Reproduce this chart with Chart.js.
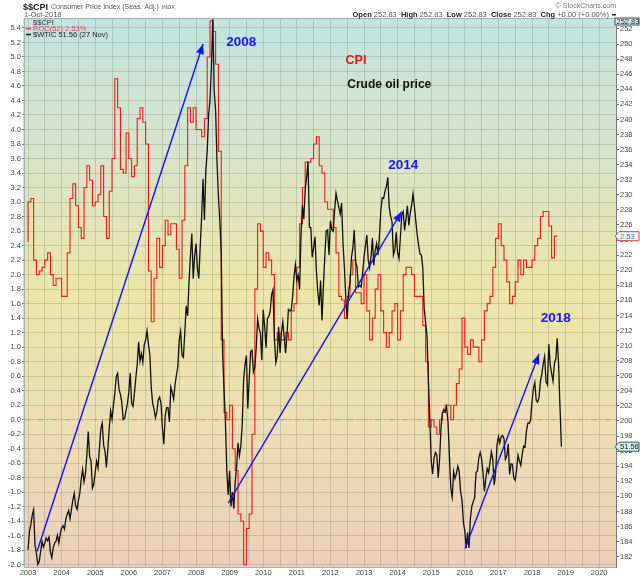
<!DOCTYPE html>
<html>
<head>
<meta charset="utf-8">
<script src="https://cdn.jsdelivr.net/npm/chart.js@4.4.1/dist/chart.umd.min.js"></script>
<style>
  html, body { margin:0; padding:0; background:#fff; }
  #wrap { width:640px; height:576px; }
</style>
</head>
<body>
<div id="wrap"><canvas id="chart" width="640" height="576"></canvas></div>
<script>
// $$CPI ROC(52) vs $WTIC overlay - stockcharts style

const firstYear = 2003;
const yearLabels = [2003,2004,2005,2006,2007,2008,2009,2010,2011,2012,2013,2014,2015,2016,2017,2018,2019,2020];
const leftTicks = [-2.0,-1.8,-1.6,-1.4,-1.2,-1.0,-0.8,-0.6,-0.4,-0.2,0.0,0.2,0.4,0.6,0.8,1.0,1.2,1.4,1.6,1.8,
  2.0,2.2,2.4,2.6,2.8,3.0,3.2,3.4,3.6,3.8,4.0,4.2,4.4,4.6,4.8,5.0,5.2,5.4];
const rightTicks = [182,184,186,188,190,192,194,196,198,200,202,204,206,208,210,212,214,216,218,
  220,222,224,226,228,230,232,234,236,238,240,242,244,246,248,250,252];

// CPI ROC(52) in %, one row per year, monthly
const cpiRoc = [
  [2.45,3.0,3.05,2.2,2.0,2.05,2.1,2.2,2.3,2.0,1.85,1.95],        // 2003
  [1.95,1.7,1.7,2.3,3.05,3.25,2.95,2.65,2.5,3.2,3.5,3.3],        // 2004
  [2.95,3.0,3.1,3.5,2.8,2.5,3.15,3.6,4.7,4.3,3.45,3.4],          // 2005
  [3.95,3.6,3.35,3.5,4.15,4.3,4.1,3.8,2.05,1.35,1.95,2.5],       // 2006
  [2.1,2.4,2.75,2.55,2.7,2.7,2.35,1.95,2.75,3.5,4.3,4.1],        // 2007
  [4.3,4.0,4.0,3.9,4.15,5.0,5.5,5.35,4.9,3.7,1.1,0.1],           // 2008
  [0.0,0.2,-0.4,-0.7,-1.3,-1.4,-2.0,-1.5,-1.3,-0.2,1.8,2.7],     // 2009
  [2.6,2.1,2.3,2.2,2.0,1.1,1.2,1.1,1.1,1.2,1.1,1.5],             // 2010
  [1.6,2.1,2.7,3.2,3.55,3.55,3.6,3.8,3.9,3.5,3.4,3.0],           // 2011
  [2.9,2.9,2.65,2.3,1.7,1.65,1.4,1.7,2.0,2.2,1.75,1.75],         // 2012
  [1.6,2.0,1.5,1.1,1.4,1.8,2.0,1.5,1.2,1.0,1.2,1.5],             // 2013
  [1.6,1.1,1.5,2.0,2.1,2.1,2.0,1.7,1.7,1.7,1.3,0.8],             // 2014
  [-0.1,0.0,-0.1,-0.2,0.0,0.1,0.2,0.2,0.0,0.2,0.5,0.7],          // 2015
  [1.4,1.0,0.9,1.1,1.0,1.0,0.8,1.1,1.5,1.6,1.7,2.1],             // 2016
  [2.5,2.7,2.4,2.2,1.9,1.6,1.7,1.9,2.2,2.0,2.2,2.1],             // 2017
  [2.1,2.2,2.4,2.5,2.8,2.87,2.87,2.67,2.23,2.53]                 // 2018
];

// $WTIC close, one row per year, twice a month (1st / 15th)
const wtic = [
  [29.0,33.0,34.5,36.6,37.8,30.0,28.2,25.8,26.5,28.6,30.8,29.6,30.5,31.6,31.0,31.8,28.5,27.3,29.5,30.5,30.9,32.2,30.5,32.5], // 2003
  [33.8,34.3,33.5,35.7,36.8,37.6,35.8,37.8,39.9,41.4,38.6,37.9,39.9,41.4,44.4,46.6,43.9,45.6,49.6,54.9,49.4,48.4,42.5,43.4], // 2004
  [46.0,48.4,46.9,51.2,55.4,56.7,51.9,50.5,47.0,51.0,55.6,59.4,57.5,60.6,63.3,66.9,67.6,64.1,63.0,61.2,57.5,57.8,59.4,61.0], // 2005
  [63.5,67.7,61.1,60.4,63.3,66.6,69.6,74.5,70.3,71.9,70.0,73.9,74.9,76.9,74.0,71.8,64.6,61.1,59.8,57.9,59.1,61.8,62.4,61.0], // 2006
  [55.6,52.1,58.4,60.1,60.1,57.0,64.6,63.4,62.0,65.1,67.2,69.1,74.9,76.8,71.5,71.1,76.7,82.4,80.2,87.6,93.3,98.2,88.3,93.3], // 2007
  [96.0,90.6,88.4,95.5,101.8,110.2,101.2,112.0,116.3,124.2,127.4,134.9,145.1,129.3,125.1,113.8,106.2,101.2,93.9,71.9,64.2,57.0,46.3,41.0], // 2008
  [46.3,38.5,41.7,38.0,44.0,47.1,52.4,49.6,51.7,56.3,66.3,69.6,71.5,59.9,66.4,72.4,72.7,67.9,68.9,73.2,79.5,77.5,76.4,70.5], // 2009
  [81.5,78.0,73.2,79.7,80.0,81.2,84.9,85.9,75.1,70.0,71.5,77.8,72.1,76.5,78.9,75.4,72.0,76.1,81.6,81.3,81.5,84.3,88.8,91.4], // 2010
  [88.0,89.1,86.0,97.9,104.4,101.4,107.9,110.5,113.9,99.6,99.5,93.0,95.1,97.5,90.0,85.3,82.5,87.9,79.2,86.8,93.3,98.8,99.0,93.5], // 2011
  [101.0,99.0,98.7,103.2,107.0,105.4,104.0,102.5,104.9,96.1,90.7,84.0,79.5,85.5,87.5,92.9,95.0,99.0,92.0,90.9,86.5,86.9,86.5,89.5], // 2012
  [93.0,95.5,97.9,92.5,90.7,93.0,97.2,91.3,94.5,96.0,93.5,97.5,103.2,106.0,105.9,107.5,108.5,110.5,104.0,102.0,100.8,93.5,94.6,98.5], // 2013
  [94.0,92.7,97.5,102.2,103.0,98.9,101.5,104.3,100.0,102.6,104.4,106.9,104.1,101.0,97.9,95.6,93.7,93.5,90.7,81.8,78.8,75.8,66.0,57.5], // 2014
  [48.4,45.6,49.0,50.3,49.8,44.8,48.9,55.7,58.9,59.7,59.2,60.3,56.9,49.5,42.5,40.5,46.1,44.6,45.7,47.3,46.1,41.7,39.9,35.0], // 2015
  [33.2,29.4,32.8,29.4,35.9,38.5,39.5,40.4,45.9,46.2,49.1,50.3,48.9,45.9,41.8,44.5,46.8,45.9,48.2,50.4,48.7,43.2,45.8,51.9], // 2016
  [53.8,52.4,53.8,54.0,53.3,48.8,49.5,52.2,45.5,47.8,47.7,44.7,44.2,46.5,49.7,48.5,47.5,49.9,51.7,51.5,54.9,56.7,56.7,57.4], // 2017
  [61.4,64.3,65.6,61.7,61.3,62.3,65.9,67.4,69.7,71.3,65.8,65.1,74.0,69.5,67.6,65.9,69.8,70.8,75.3,69.5,60.2,51.56]           // 2018
];

// drawn trend arrows: [year, $WTIC] start -> end
const arrows = [
  [[2003.27, 28.7], [2008.21, 139.7]],
  [[2008.96, 39.2], [2014.12, 103.0]],
  [[2016.01, 29.3], [2018.21, 71.85]]
];

// text notes placed at [year, ROC value]
const notes = [
  { text:'2008', year:2008.9, roc:5.15, color:'#1a1aee', font:'bold 13.5px "Liberation Sans", Arial, sans-serif' },
  { text:'CPI', year:2012.45, roc:4.90, color:'#ee1111', font:'bold 12.5px "Liberation Sans", Arial, sans-serif' },
  { text:'Crude oil price', year:2012.5, roc:4.57, color:'#111', font:'bold 12px "Liberation Sans", Arial, sans-serif' },
  { text:'2014', year:2013.72, roc:3.45, color:'#1a1aee', font:'bold 13.5px "Liberation Sans", Arial, sans-serif' },
  { text:'2018', year:2018.26, roc:1.34, color:'#1a1aee', font:'bold 13.5px "Liberation Sans", Arial, sans-serif' }
];

const cpiPoints = [];
cpiRoc.forEach((row, i) => row.forEach((v, m) => cpiPoints.push({ x: firstYear + i + m / 12, y: v })));
const oilPoints = [];
wtic.forEach((row, i) => row.forEach((v, k) => oilPoints.push({ x: firstYear + i + k / 24, y: v })));
const lastRoc = cpiPoints[cpiPoints.length - 1].y;
const lastOil = oilPoints[oilPoints.length - 1].y;

const xGrid = [];
yearLabels.forEach(y => { xGrid.push(y); xGrid.push(y + 0.5); });

const FONT = '"Liberation Sans", Arial, sans-serif';
const gridColor = 'rgba(70,90,70,0.2)';

const bgPlugin = {
  id: 'bg',
  beforeDraw(chart) {
    const { ctx, chartArea: a } = chart;
    ctx.save();
    ctx.fillStyle = '#fff';
    ctx.fillRect(0, 0, chart.width, chart.height);
    const g = ctx.createLinearGradient(0, a.top, 0, a.bottom);
    g.addColorStop(0, '#c3e4e1');
    g.addColorStop(0.3, '#dde4c3');
    g.addColorStop(0.5, '#ede6a8');
    g.addColorStop(0.72, '#eddfb3');
    g.addColorStop(1, '#ebcfbb');
    ctx.fillStyle = g;
    ctx.fillRect(a.left, a.top, a.right - a.left, a.bottom - a.top);
    ctx.restore();
  }
};

function tag(ctx, x, y, text, fill, stroke, color) {
  ctx.save();
  ctx.beginPath();
  ctx.moveTo(x, y);
  ctx.lineTo(x + 4, y - 4.5);
  ctx.lineTo(x + 24, y - 4.5);
  ctx.lineTo(x + 24, y + 4.5);
  ctx.lineTo(x + 4, y + 4.5);
  ctx.closePath();
  ctx.fillStyle = fill; ctx.fill();
  ctx.strokeStyle = stroke; ctx.lineWidth = 1; ctx.stroke();
  ctx.fillStyle = color;
  ctx.font = '7.5px ' + FONT;
  ctx.textBaseline = 'middle';
  ctx.fillText(text, x + 5, y + 0.5);
  ctx.restore();
}

const overlayPlugin = {
  id: 'overlay',
  beforeDatasetsDraw(chart) {
    const { ctx, chartArea: a } = chart;
    const y0 = chart.scales.yRoc.getPixelForValue(0);
    ctx.save();
    ctx.strokeStyle = '#f28a72';
    ctx.lineWidth = 1;
    ctx.setLineDash([6, 3, 1.5, 3]);
    ctx.beginPath(); ctx.moveTo(a.left, y0); ctx.lineTo(a.right, y0); ctx.stroke();
    ctx.restore();
  },
  afterDatasetsDraw(chart) {
    const { ctx, chartArea: a } = chart;
    // arrow heads
    chart.data.datasets.forEach((ds, i) => {
      if (!ds.isArrow) return;
      const pts = chart.getDatasetMeta(i).data;
      const p0 = pts[0], p1 = pts[1];
      const ang = Math.atan2(p1.y - p0.y, p1.x - p0.x);
      ctx.save();
      ctx.translate(p1.x, p1.y);
      ctx.rotate(ang);
      ctx.beginPath();
      ctx.moveTo(0, 0); ctx.lineTo(-10, -4); ctx.lineTo(-10, 4); ctx.closePath();
      ctx.fillStyle = ds.borderColor; ctx.fill();
      ctx.restore();
    });
    // notes
    ctx.save();
    ctx.textBaseline = 'alphabetic';
    notes.forEach(n => {
      ctx.font = n.font;
      ctx.fillStyle = n.color;
      ctx.fillText(n.text, chart.scales.x.getPixelForValue(n.year), chart.scales.yRoc.getPixelForValue(n.roc));
    });
    // in-chart legend
    const lx = a.left + 9;
    ctx.font = '7.5px ' + FONT;
    ctx.fillStyle = '#333';
    ctx.fillText('$$CPI', lx, a.top + 6.5);
    ctx.fillStyle = '#e04848';
    ctx.fillRect(a.left + 2, a.top + 9.5, 5, 1.5);
    ctx.fillText('ROC(52) ' + lastRoc.toFixed(2) + '%', lx, a.top + 12.3);
    ctx.fillStyle = '#222';
    ctx.fillRect(a.left + 2, a.top + 15.3, 5, 1.5);
    ctx.fillText('$WTIC ' + lastOil.toFixed(2) + ' (27 Nov)', lx, a.top + 18);
    // frame top / left
    ctx.strokeStyle = '#9fb2ae';
    ctx.lineWidth = 1;
    ctx.beginPath();
    ctx.moveTo(a.left, a.bottom); ctx.lineTo(a.left, a.top); ctx.lineTo(a.right, a.top);
    ctx.stroke();
    ctx.restore();
  },
  afterDraw(chart) {
    const { ctx, chartArea: a } = chart;
    ctx.save();
    ctx.textBaseline = 'alphabetic';
    // title line, each piece placed after the previous one
    let hx = 23;
    ctx.fillStyle = '#222';
    ctx.font = 'bold 9px ' + FONT;
    ctx.fillText('$$CPI', hx, 9.5);
    hx += ctx.measureText('$$CPI').width + 3;
    ctx.fillStyle = '#555';
    ctx.font = '7px ' + FONT;
    ctx.fillText('Consumer Price Index (Seas. Adj.)', hx, 9);
    hx += ctx.measureText('Consumer Price Index (Seas. Adj.)').width + 3;
    ctx.font = '5.5px ' + FONT;
    ctx.fillText('INDX', hx, 9);
    ctx.font = '7.5px ' + FONT;
    ctx.fillText('1-Oct-2018', 24, 17);
    ctx.textAlign = 'right';
    ctx.fillStyle = '#777';
    ctx.font = '7px ' + FONT;
    ctx.fillText('\u00a9 StockCharts.com', a.right, 8);
    // OHLC line
    const parts = [['Open', true], [' 252.83  ', false], ['High', true], [' 252.83  ', false], ['Low', true], [' 252.83  ', false],
      ['Close', true], [' 252.83  ', false], ['Chg', true], [' +0.00 (+0.00%) ', false]];
    let w = 0;
    parts.forEach(p => { ctx.font = (p[1] ? 'bold ' : '') + '7.5px ' + FONT; w += ctx.measureText(p[0]).width; });
    let x = a.right - 5 - w;
    ctx.textAlign = 'left';
    parts.forEach(p => {
      ctx.font = (p[1] ? 'bold ' : '') + '7.5px ' + FONT;
      ctx.fillStyle = p[1] ? '#222' : '#555';
      ctx.fillText(p[0], x, 17);
      x += ctx.measureText(p[0]).width;
    });
    ctx.fillStyle = '#222';
    ctx.fillRect(a.right - 4, 14, 4, 1.5);
    // price tags on the right axis
    ctx.fillStyle = '#d6eef0';
    ctx.fillRect(a.right - 1, a.top - 0.5, 24, 7);
    ctx.strokeStyle = '#445';
    ctx.strokeRect(a.right - 1, a.top - 0.5, 24, 7);
    ctx.fillStyle = '#223';
    ctx.font = '7.5px ' + FONT;
    ctx.textBaseline = 'middle';
    ctx.fillText('252.83', a.right + 0.5, a.top + 3.2);
    ctx.restore();
    tag(ctx, a.right - 1, chart.scales.yRoc.getPixelForValue(lastRoc), lastRoc.toFixed(2), '#e9f6f6', '#e04040', '#3a7a8a');
    tag(ctx, a.right - 1, chart.scales.yOil.getPixelForValue(lastOil), lastOil.toFixed(2), '#d8f2f2', '#355', '#111');
  }
};

new Chart(document.getElementById('chart'), {
  type: 'line',
  data: {
    datasets: [
      ...arrows.map(ar => ({
        data: ar.map(p => ({ x: p[0], y: p[1] })),
        yAxisID: 'yOil', borderColor: '#1414f0', borderWidth: 1.4,
        pointRadius: 0, order: 0, isArrow: true
      })),
      { label: '$WTIC', data: oilPoints, yAxisID: 'yOil', borderColor: '#111', borderWidth: 1.3,
        pointRadius: 0, order: 1 },
      { label: 'ROC(52)', data: cpiPoints, yAxisID: 'yRoc', borderColor: '#ec1a1a', borderWidth: 1.1,
        pointRadius: 0, stepped: 'after', order: 2 }
    ]
  },
  options: {
    responsive: false,
    animation: false,
    layout: { padding: { top: 18.5, left: 0, right: 0, bottom: 0 } },
    plugins: { legend: { display: false }, tooltip: { enabled: false } },
    scales: {
      x: {
        type: 'linear', min: 2002.88, max: 2020.5,
        afterBuildTicks: s => { s.ticks = xGrid.map(v => ({ value: v })); },
        afterFit: s => { s.height = 9; },
        grid: { color: gridColor, drawTicks: false },
        border: { display: true, color: '#9fb2ae' },
        ticks: { autoSkip: false, maxRotation: 0, padding: 1, color: '#444', font: { size: 7.5, family: FONT },
          callback: v => Number.isInteger(v) ? String(v) : '' }
      },
      yRoc: {
        position: 'left', min: -2.03, max: 5.53,
        afterBuildTicks: s => { s.ticks = leftTicks.map(v => ({ value: v })); },
        afterFit: s => { s.width = 24; },
        grid: { color: gridColor, tickLength: 2, tickColor: '#777' },
        border: { display: true, color: '#9fb2ae' },
        ticks: { padding: 1, color: '#444', font: { size: 7.5, family: FONT }, callback: v => v.toFixed(1) }
      },
      yCpi: {
        position: 'right', min: 180.63, max: 253.39,
        afterBuildTicks: s => { s.ticks = rightTicks.map(v => ({ value: v })); },
        afterFit: s => { s.width = 24; },
        grid: { drawOnChartArea: false, tickLength: 3, tickColor: '#777' },
        border: { display: true, color: '#777', dash: [1, 1] },
        ticks: { padding: 1, color: '#444', font: { size: 7.5, family: FONT } }
      },
      yOil: { display: false, min: 25.24, max: 145.26 }
    }
  },
  plugins: [bgPlugin, overlayPlugin]
});
</script>
</body>
</html>
